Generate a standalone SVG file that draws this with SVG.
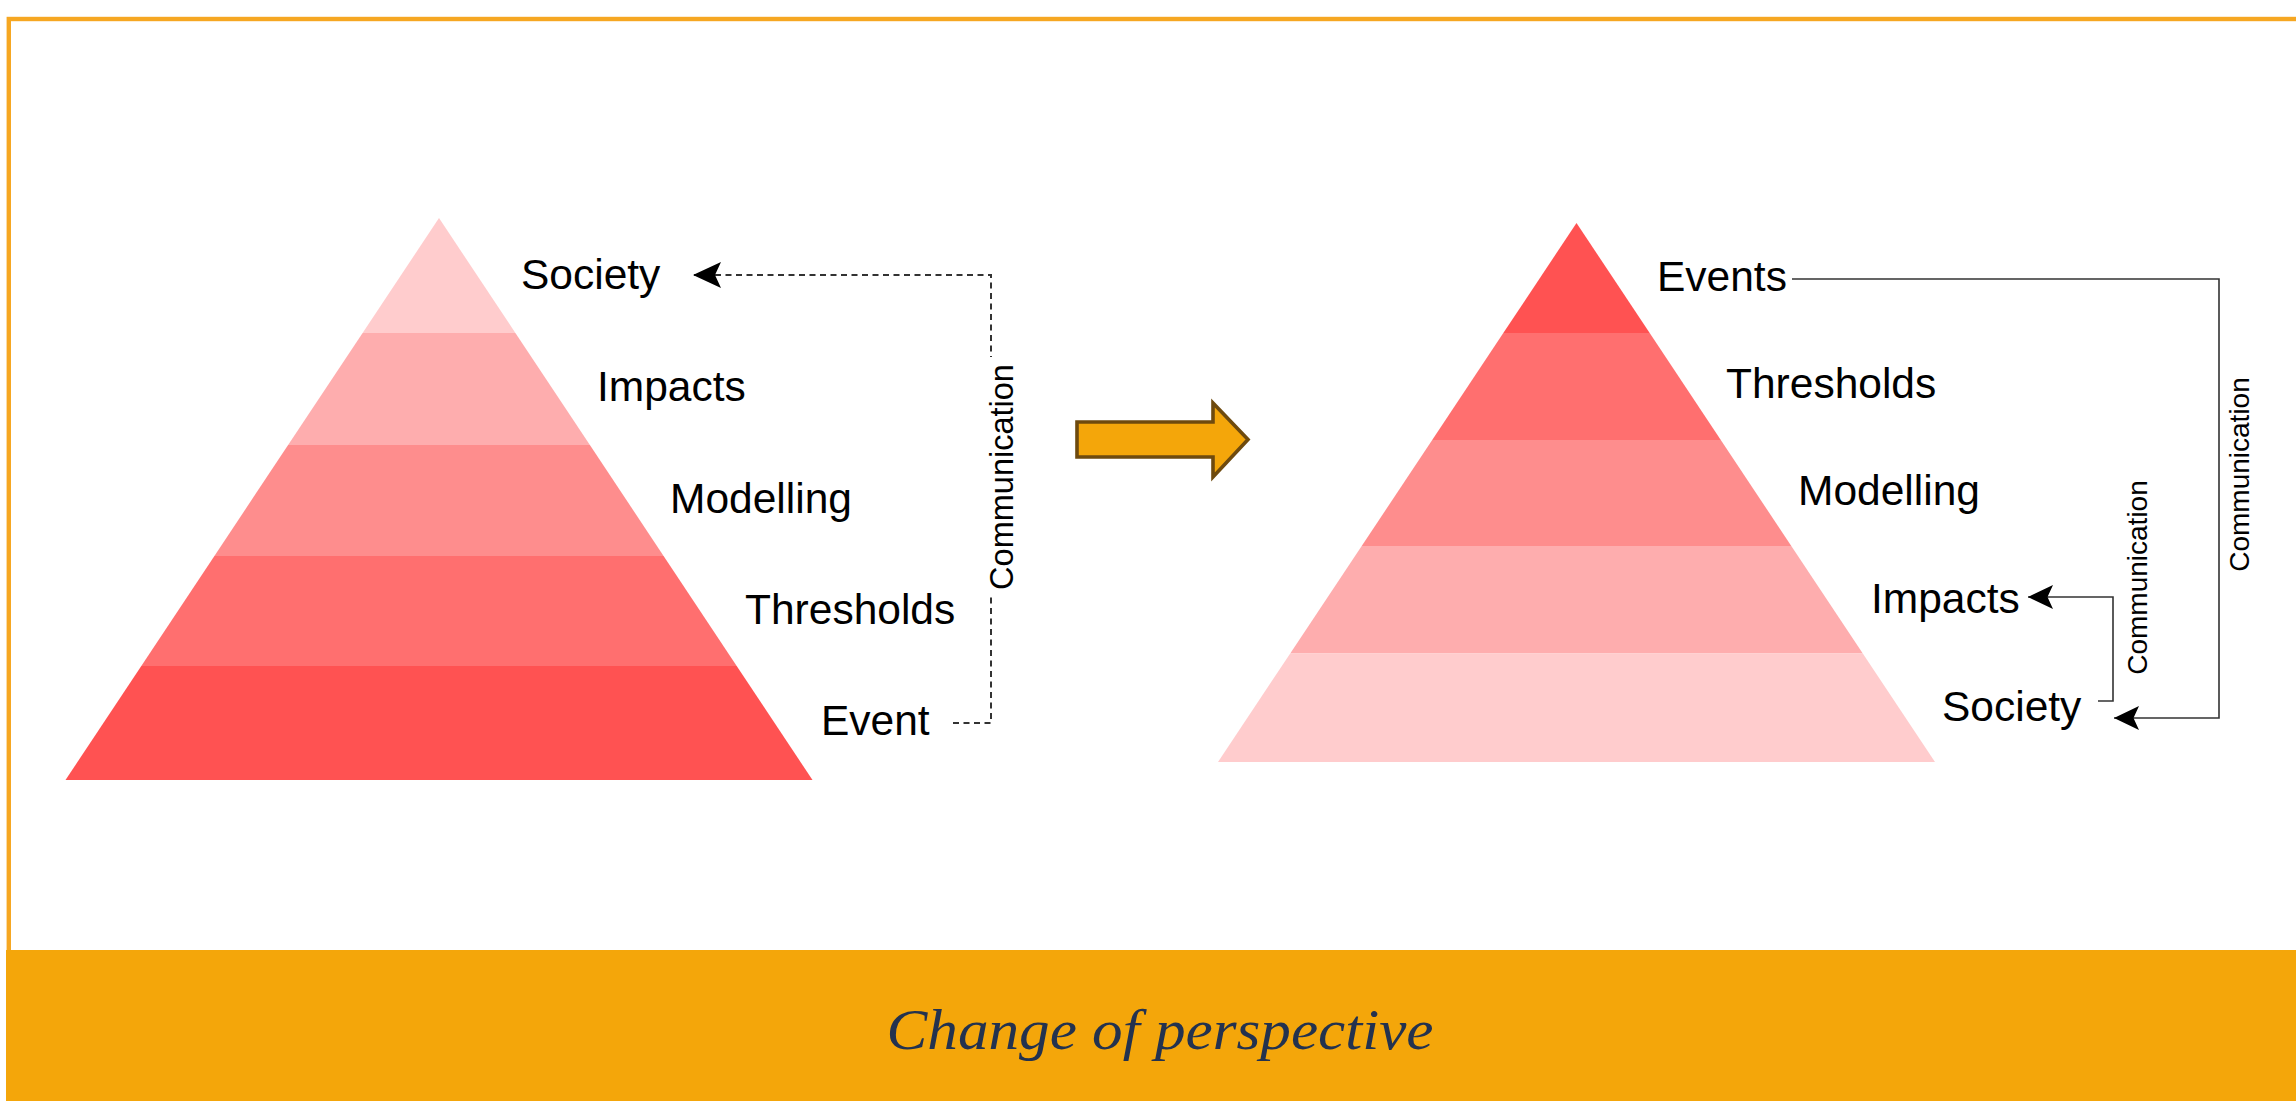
<svg xmlns="http://www.w3.org/2000/svg" width="2296" height="1101" viewBox="0 0 2296 1101">
  <defs>
    <style>
      .lbl { font-family: "Liberation Sans", Arial, Helvetica, sans-serif; font-size: 42.5px; fill: #000; }
      .comm { font-family: "Liberation Sans", Arial, Helvetica, sans-serif; fill: #000; text-anchor: middle; }
      .conn { fill: none; stroke: #333; }
      .dashed { stroke-width: 2; stroke-dasharray: 6 4.5; }
      .solid { stroke-width: 1.6; }
      .c1 { fill: #FFCCCD; }
      .c2 { fill: #FEADAE; }
      .c3 { fill: #FE8D8D; }
      .c4 { fill: #FF6F6F; }
      .c5 { fill: #FF5252; }
      .caption { font-family: "Liberation Serif", "Times New Roman", Georgia, serif; font-style: italic; font-size: 58px; fill: #23324F; text-anchor: middle; }
    </style>
    <marker id="arrowBig" markerUnits="userSpaceOnUse" viewBox="0 0 28 26" markerWidth="28" markerHeight="26" refX="28" refY="13" orient="auto">
      <path d="M0,0 L28,13 L0,26 L6,13 Z" fill="#000"/>
    </marker>
    <marker id="arrowSmall" markerUnits="userSpaceOnUse" viewBox="0 0 25 24" markerWidth="25" markerHeight="24" refX="25" refY="12" orient="auto">
      <path d="M0,0 L25,12 L0,24 L5.5,12 Z" fill="#000"/>
    </marker>
  </defs>

  <rect width="2296" height="1101" fill="#fff"/>

  <g id="frame">
    <rect x="8.8" y="19" width="2310" height="960" fill="none" stroke="#F6A722" stroke-width="4.4"/>
    <rect x="6" y="950" width="2290" height="151" fill="#F4A60A"/>
    <text class="caption" x="1160" y="1049" textLength="547" lengthAdjust="spacingAndGlyphs">Change of perspective</text>
  </g>

  <!-- Left pyramid -->
  <g id="left-pyramid">
    <g id="left-society">
      <polygon class="c1" points="439,218 515.4,333 362.6,333"/>
      <text class="lbl" x="521" y="289">Society</text>
    </g>
    <g id="left-impacts">
      <polygon class="c2" points="362.6,333 515.4,333 589.9,445 288.1,445"/>
      <text class="lbl" x="597" y="400.5">Impacts</text>
    </g>
    <g id="left-modelling">
      <polygon class="c3" points="288.1,445 589.9,445 663.6,556 214.4,556"/>
      <text class="lbl" x="670" y="512.5">Modelling</text>
    </g>
    <g id="left-thresholds">
      <polygon class="c4" points="214.4,556 663.6,556 736.7,666 141.3,666"/>
      <text class="lbl" x="745" y="624">Thresholds</text>
    </g>
    <g id="left-event">
      <polygon class="c5" points="141.3,666 736.7,666 812.5,780 65.5,780"/>
      <text class="lbl" x="821" y="735">Event</text>
    </g>
  </g>

  <!-- Transition arrow -->
  <g id="change-arrow">
    <polygon points="1077,422 1213,422 1213,403 1248,439.5 1213,477 1213,457 1077,457" fill="#F4A60A" stroke="#6E4A0E" stroke-width="3.6" stroke-linejoin="miter"/>
  </g>

  <!-- Right pyramid -->
  <g id="right-pyramid">
    <g id="right-events">
      <polygon class="c5" points="1576.5,223 1649.7,333 1503.3,333"/>
      <text class="lbl" x="1657" y="290.5">Events</text>
    </g>
    <g id="right-thresholds">
      <polygon class="c4" points="1503.3,333 1649.7,333 1720.8,440 1432.2,440"/>
      <text class="lbl" x="1726" y="398">Thresholds</text>
    </g>
    <g id="right-modelling">
      <polygon class="c3" points="1432.2,440 1720.8,440 1791.3,546 1361.7,546"/>
      <text class="lbl" x="1798" y="505">Modelling</text>
    </g>
    <g id="right-impacts">
      <polygon class="c2" points="1361.7,546 1791.3,546 1862.8,653.5 1290.2,653.5"/>
      <text class="lbl" x="1871" y="613">Impacts</text>
    </g>
    <g id="right-society">
      <polygon class="c1" points="1290.2,653.5 1862.8,653.5 1935,762 1218,762"/>
      <text class="lbl" x="1942" y="721">Society</text>
    </g>
  </g>

  <!-- Connectors -->
  <g id="connectors">
    <path class="conn dashed" d="M953,723 H991 V275 H693" marker-end="url(#arrowBig)"/>
    <rect x="985" y="357" width="32" height="240" fill="#fff"/>
    <text class="comm" font-size="32.5" transform="translate(1013,477) rotate(-90)">Communication</text>

    <path class="conn solid" d="M1792,279 H2219 V718 H2114" marker-end="url(#arrowSmall)"/>
    <text class="comm" font-size="28" transform="translate(2249,474.5) rotate(-90)">Communication</text>

    <path class="conn solid" d="M2098,701 H2113 V597 H2028" marker-end="url(#arrowSmall)"/>
    <text class="comm" font-size="28" transform="translate(2147,577.5) rotate(-90)">Communication</text>
  </g>
</svg>
